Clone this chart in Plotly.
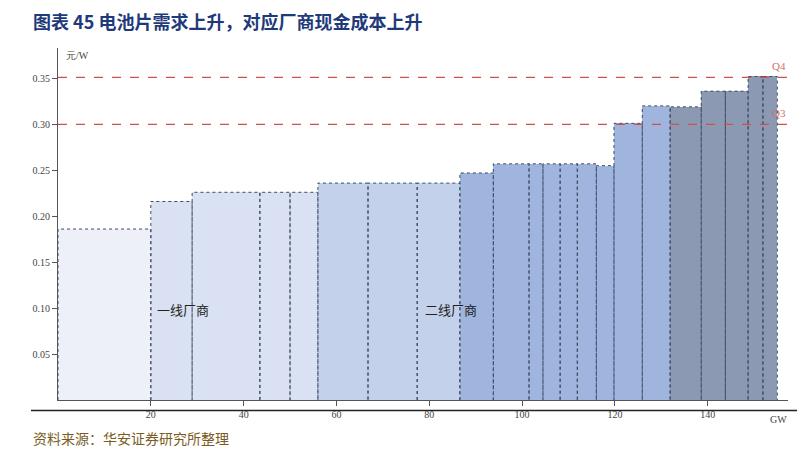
import plotly.graph_objects as go

edges = [0, 20, 28.9, 43.5, 50, 56, 66.8, 77.4, 86.6, 93.8, 101.5, 104.5, 108.2, 111.9, 116, 119.8, 125.9, 131.9, 138.6, 143.8, 148.7, 151.9, 155]
costs = [0.186, 0.216, 0.226, 0.226, 0.226, 0.236, 0.236, 0.236, 0.247, 0.257, 0.257, 0.257, 0.257, 0.257, 0.255, 0.301, 0.320, 0.319, 0.336, 0.336, 0.352, 0.352]
colors = ["#edf0f8", "#d9e1f2", "#d9e1f2", "#d9e1f2", "#d9e1f2", "#c4d1eb", "#c4d1eb", "#c4d1eb",
          "#9fb5de", "#9fb5de", "#9fb5de", "#9fb5de", "#9fb5de", "#9fb5de", "#9fb5de", "#9fb5de", "#9fb5de",
          "#8b99b3", "#8b99b3", "#8b99b3", "#8b99b3", "#8b99b3"]
q_levels = [0.300, 0.351]
q_labels = ["Q3", "Q4"]
xticks = [20, 40, 60, 80, 100, 120, 140]
yticks = [0.05, 0.10, 0.15, 0.20, 0.25, 0.30, 0.35]

centers = [(edges[i] + edges[i+1]) / 2 for i in range(len(costs))]
widths = [edges[i+1] - edges[i] for i in range(len(costs))]

fig = go.Figure()
fig.add_trace(go.Bar(x=centers, y=costs, width=widths, marker=dict(color=colors, line=dict(width=0)), hoverinfo="skip"))
for i, c in enumerate(costs):
    x0, x1 = edges[i], edges[i+1]
    fig.add_trace(go.Scatter(x=[x0, x0, x1, x1], y=[0, c, c, 0], mode="lines",
                             line=dict(color="#3f4b66", width=1, dash="dot"), hoverinfo="skip"))
xmax = 157.3
for q, lab in zip(q_levels, q_labels):
    fig.add_shape(type="line", x0=0, x1=xmax, y0=q, y1=q, xref="x", yref="y",
                  line=dict(color="#d05050", width=1.2, dash="dash"))
    fig.add_annotation(x=xmax, y=q, text=lab, showarrow=False, xanchor="right", yanchor="bottom", yshift=3,
                       font=dict(family="Liberation Serif", size=11, color="#d07070"))
fig.add_annotation(x=27, y=0.098, text="一线厂商", showarrow=False, font=dict(family="Noto Sans CJK SC", size=13, color="#222"))
fig.add_annotation(x=84.7, y=0.098, text="二线厂商", showarrow=False, font=dict(family="Noto Sans CJK SC", size=13, color="#222"))
fig.add_annotation(x=0, y=0.383, text="元/W", showarrow=False, xanchor="left", yanchor="top", xshift=6,
                   font=dict(family="Liberation Serif", size=10, color="#444"))
fig.add_annotation(x=xmax, y=0, text="GW", showarrow=False, xanchor="center", yanchor="top", yshift=-12, xshift=-10,
                   font=dict(family="Liberation Serif", size=10, color="#444"))
fig.add_annotation(xref="paper", yref="paper", x=-0.037, y=1.035, text="<b>图表 45 电池片需求上升，对应厂商现金成本上升</b>",
                   showarrow=False, xanchor="left", yanchor="bottom", font=dict(family="Noto Sans CJK SC", size=18, color="#1f3a7a"))
fig.add_shape(type="line", xref="paper", yref="paper", x0=-0.037, x1=1.03, y0=-0.03, y1=-0.03, line=dict(color="#222", width=1.5))
fig.add_annotation(xref="paper", yref="paper", x=-0.037, y=-0.075, text="资料来源：华安证券研究所整理",
                   showarrow=False, xanchor="left", yanchor="top", font=dict(family="Noto Sans CJK SC", size=14, color="#7a5c1e"))

fig.update_layout(width=805, height=467, margin=dict(l=50, r=25, t=40, b=75, autoexpand=False), plot_bgcolor="white", paper_bgcolor="white",
                  showlegend=False, bargap=0,
                  xaxis=dict(range=[0, xmax], tickvals=xticks, ticks="outside", ticklen=5, tickcolor="#555", showgrid=False, automargin=False,
                             showline=True, linecolor="#555", tickfont=dict(family="Liberation Serif", size=10, color="#444"), zeroline=False),
                  yaxis=dict(range=[0, 0.383], tickvals=yticks, tickformat=".2f", ticks="outside", ticklen=5, tickcolor="#555", showgrid=False, automargin=False,
                             showline=True, linecolor="#555", tickfont=dict(family="Liberation Serif", size=10, color="#444"), zeroline=False))
fig.write_html("out.html")
